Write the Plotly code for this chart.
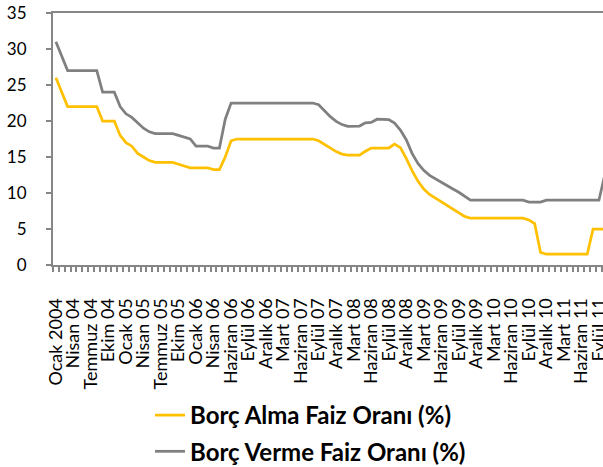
import plotly.graph_objects as go

# Overnight borrowing / lending rates, monthly, Jan 2004 onward (%)
borc_alma = [
    26, 24, 22, 22, 22, 22, 22, 22, 20, 20,
    20, 18, 17, 16.5, 15.5, 15, 14.5, 14.25, 14.25, 14.25,
    14.25, 14, 13.75, 13.5, 13.5, 13.5, 13.5, 13.25, 13.25, 15,
    17.25, 17.5, 17.5, 17.5, 17.5, 17.5, 17.5, 17.5, 17.5, 17.5,
    17.5, 17.5, 17.5, 17.5, 17.5, 17.25, 16.75, 16.15, 15.75, 15.4,
    15.25, 15.25, 15.25, 15.8, 16.25, 16.25, 16.25, 16.25, 16.8, 16.3,
    14.8, 13.1, 11.65, 10.55, 9.8, 9.3, 8.85, 8.35, 7.85, 7.3,
    6.75, 6.5, 6.5, 6.5, 6.5, 6.5, 6.5, 6.5, 6.5, 6.5,
    6.5, 6.25, 5.75, 1.75, 1.5, 1.5, 1.5, 1.5, 1.5, 1.5,
    1.5, 1.5, 5, 5, 5,
]
borc_verme = [
    31, 29, 27, 27, 27, 27, 27, 27, 24, 24,
    24, 22, 21, 20.5, 19.75, 19, 18.5, 18.25, 18.25, 18.25,
    18.25, 18, 17.75, 17.5, 16.5, 16.5, 16.5, 16.25, 16.25, 20.25,
    22.5, 22.5, 22.5, 22.5, 22.5, 22.5, 22.5, 22.5, 22.5, 22.5,
    22.5, 22.5, 22.5, 22.5, 22.5, 22.25, 21.4, 20.6, 19.95, 19.5,
    19.25, 19.25, 19.3, 19.75, 19.8, 20.25, 20.25, 20.2, 19.7, 18.75,
    17.4, 15.5, 14.1, 13.15, 12.45, 11.95, 11.5, 11.0, 10.55, 10.1,
    9.5, 9, 9, 9, 9, 9, 9, 9, 9, 9,
    9, 8.75, 8.75, 8.75, 9, 9, 9, 9, 9, 9,
    9, 9, 9, 9, 12.5,
]
tick_labels = [
    "Ocak 2004", "Nisan 04", "Temmuz 04", "Ekim 04",
    "Ocak 05", "Nisan 05", "Temmuz 05", "Ekim 05",
    "Ocak 06", "Nisan 06", "Haziran 06", "Eylül 06", "Aralık 06",
    "Mart 07", "Haziran 07", "Eylül 07", "Aralık 07",
    "Mart 08", "Haziran 08", "Eylül 08", "Aralık 08",
    "Mart 09", "Haziran 09", "Eylül 09", "Aralık 09",
    "Mart 10", "Haziran 10", "Eylül 10", "Aralık 10",
    "Mart 11", "Haziran 11", "Eylül 11",
]
label_step = 3

x = list(range(len(borc_alma)))
tick_pos = [i * label_step for i in range(len(tick_labels))]

AXIS = "#868686"
FONT = "Lato"

fig = go.Figure()
fig.add_trace(go.Scatter(
    x=x, y=borc_alma, mode="lines", name="Borç Alma Faiz Oranı (%)",
    line=dict(color="#FFC000", width=2.75), legendgroup="a",
))
fig.add_trace(go.Scatter(
    x=x, y=borc_verme, mode="lines", name="Borç Verme Faiz Oranı (%)",
    line=dict(color="#808080", width=2.75), legendgroup="b",
))

fig.update_layout(
    width=603, height=467, autosize=False,
    margin=dict(l=53, r=0, t=13, b=202, pad=0, autoexpand=False),
    paper_bgcolor="white", plot_bgcolor="white",
    font=dict(family=FONT, color="black"),
    showlegend=True,
    legend=dict(
        orientation="v",
        x=(150 - 53) / 550, y=(265 - 393) / 252, xanchor="left", yanchor="top",
        font=dict(family=FONT, size=24, color="black", weight="bold"),
        tracegroupgap=2, bgcolor="rgba(0,0,0,0)",
    ),
    xaxis=dict(
        range=[-0.5, 93.7], showgrid=False, zeroline=False, automargin=False,
        showline=True, linecolor=AXIS, linewidth=2, mirror=True,
        tickmode="array", tickvals=tick_pos, ticktext=tick_labels,
        tickangle=-90, ticks="", ticklabelstandoff=24,
        ticklabeloverflow="allow",
        tickfont=dict(family=FONT, size=18, color="black"),
        minor=dict(ticks="outside", dtick=1, tick0=0.5, ticklen=5,
                   tickwidth=1.5, tickcolor=AXIS),
    ),
    yaxis=dict(
        range=[0, 35], dtick=5, showgrid=False, zeroline=False, automargin=False,
        showline=True, linecolor=AXIS, linewidth=2,
        ticks="outside", ticklen=5, tickwidth=1.5, tickcolor=AXIS,
        ticklabelstandoff=16,
        tickfont=dict(family=FONT, size=17, color="black"),
    ),
)

fig.write_html("out.html")
